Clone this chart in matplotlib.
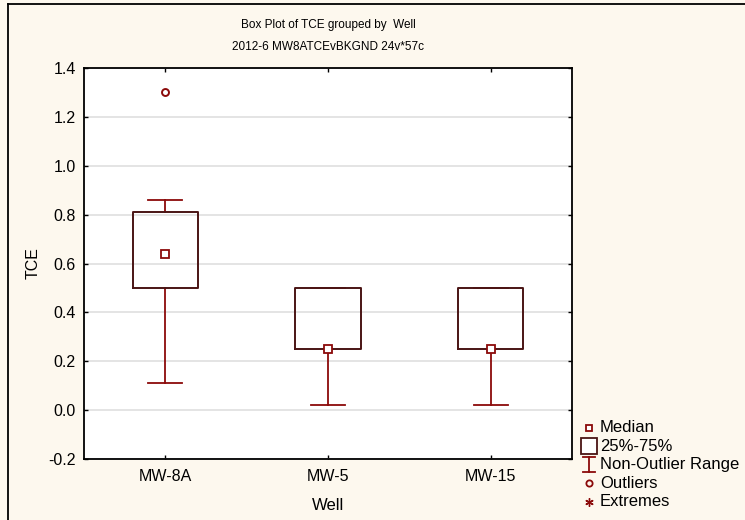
import numpy as np
import matplotlib
matplotlib.use("Agg")
import matplotlib.pyplot as plt
from matplotlib.lines import Line2D

plt.rcParams["font.family"] = ["Liberation Sans", "DejaVu Sans"]

# values
wells = ["MW-8A", "MW-5", "MW-15"]
medians = [0.64, 0.25, 0.25]
q1 = [0.50, 0.25, 0.25]
q3 = [0.81, 0.50, 0.50]
whis_lo = [0.11, 0.02, 0.02]
whis_hi = [0.86, 0.50, 0.50]
outliers = [[1.30], [], []]
yticks = [-0.2, 0.0, 0.2, 0.4, 0.6, 0.8, 1.0, 1.2, 1.4]
legend_labels = ["Median", "25%-75%", "Non-Outlier Range", "Outliers", "Extremes"]

bg = "#fdf8ee"
red = "#8b0a0a"
boxc = "#4a1414"

fig = plt.figure(figsize=(7.45, 5.2), dpi=100, facecolor=bg)
ax = fig.add_axes([84/745, 1-459/520, (572-84)/745, (459-68)/520])
ax.set_facecolor("white")

stats = []
for i, w in enumerate(wells):
    stats.append(dict(label=w, med=medians[i], q1=q1[i], q3=q3[i],
                      whislo=whis_lo[i], whishi=whis_hi[i],
                      fliers=outliers[i], mean=medians[i]))

ax.bxp(stats, positions=[1, 2, 3], widths=0.4, capwidths=0.21,
       showmeans=True, meanline=False,
       boxprops=dict(color=boxc, linewidth=1.4, zorder=4),
       whiskerprops=dict(color=red, linewidth=1.3, zorder=3),
       capprops=dict(color=red, linewidth=1.3, zorder=3),
       medianprops=dict(linestyle="none"),
       meanprops=dict(marker="s", markersize=5.5, markerfacecolor="white",
                      markeredgecolor=red, markeredgewidth=1.3, zorder=5),
       flierprops=dict(marker="o", markersize=5, markerfacecolor="none",
                       markeredgecolor=red, markeredgewidth=1.4))

ax.set_xlim(0.5, 3.5)
ax.set_ylim(-0.2, 1.4)
ax.set_yticks(yticks)
ax.set_yticklabels([f"{v:.1f}" for v in yticks])
ax.set_xticks([1, 2, 3])
ax.set_xticklabels(wells)
ax.grid(axis="y", color="#dcdcdc", linewidth=1.1)
ax.set_axisbelow(True)
ax.tick_params(direction="in", top=True, right=True, length=3, width=1,
               labelsize=11.5, color="black")
ax.tick_params(axis="y", pad=6)
ax.tick_params(axis="x", pad=7)
for s in ax.spines.values():
    s.set_linewidth(1.3)
ax.set_ylabel("TCE", fontsize=11.5)
ax.yaxis.set_label_coords((33-84)/488, 0.5)
ax.set_xlabel("Well", fontsize=12)
ax.xaxis.set_label_coords(0.5, -(505-459)/391)
ax.xaxis.label.set_va("center")
ax.yaxis.label.set_va("center")

fig.text(328/745, 1-25/520, "Box Plot of TCE grouped by  Well",
         ha="center", va="center", fontsize=8.5)
fig.text(328/745, 1-47/520, "2012-6 MW8ATCEvBKGND 24v*57c",
         ha="center", va="center", fontsize=8.5)

# frame around the figure
fig.add_artist(Line2D([8/745, 1.0], [1-4/520, 1-4/520], color="black", linewidth=1.3))
fig.add_artist(Line2D([8/745, 8/745], [0.0, 1-4/520], color="black", linewidth=1.3))

# legend drawn in its own axes
lax = fig.add_axes([578/745, 1-511/520, 167/745, 92.5/520])
lax.set_xlim(0, 167)
lax.set_ylim(len(legend_labels) - 0.5, -0.5)
lax.axis("off")
mx = 11
lax.plot(mx, 0, marker="s", markersize=5, markerfacecolor="white",
         markeredgecolor=red, markeredgewidth=1.3)
lax.plot(mx, 1, marker="s", markersize=12, markerfacecolor="white",
         markeredgecolor=boxc, markeredgewidth=1.3)
lax.plot([mx, mx], [1.6, 2.4], color=red, linewidth=1.3)
lax.plot([mx - 6, mx + 6], [1.6, 1.6], color=red, linewidth=1.3)
lax.plot([mx - 6, mx + 6], [2.4, 2.4], color=red, linewidth=1.3)
lax.plot(mx, 3, marker="o", markersize=4.5, markerfacecolor="none",
         markeredgecolor=red, markeredgewidth=1.3)
lax.plot(mx, 4, marker=(6, 2, 0), markersize=6, color=red, markeredgewidth=1.0)
for i, lab in enumerate(legend_labels):
    lax.text(22, i, lab, ha="left", va="center", fontsize=12)

fig.savefig("out.png", dpi=100, facecolor=bg)
